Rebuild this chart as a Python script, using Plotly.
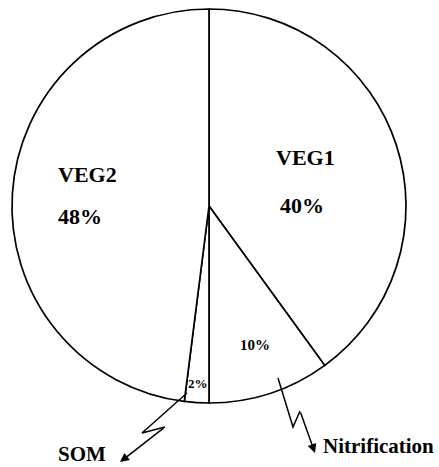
import plotly.graph_objects as go

# Share of N uptake by pool (%)
labels = ["VEG1", "Nitrification", "SOM", "VEG2"]
shares = [40, 10, 2, 48]

W, H = 439, 467
FONT = "Liberation Serif, Times New Roman, serif"


def px(x):
    return x / W


def py(y):
    return 1 - y / H


cx, cy, r = 209, 206, 197

fig = go.Figure(
    go.Pie(
        labels=labels,
        values=shares,
        sort=False,
        direction="clockwise",
        rotation=0,
        marker=dict(colors=["white"] * len(shares), line=dict(color="black", width=1.7)),
        textinfo="none",
        hoverinfo="label+percent",
        showlegend=False,
        domain=dict(x=[px(cx - r), px(cx + r)], y=[py(cy + r), py(cy - r)]),
    )
)

pct = {lab: f"{v}%" for lab, v in zip(labels, shares)}

annotations = []


def add_text(x, y, text, size):
    annotations.append(
        dict(
            x=px(x), y=py(y), xref="paper", yref="paper", text=f"<b>{text}</b>",
            showarrow=False, font=dict(family=FONT, size=size, color="black"),
            xanchor="center", yanchor="middle",
        )
    )


add_text(305, 157, "VEG1", 22)
add_text(302, 205, pct["VEG1"], 22)
add_text(87, 175, "VEG2", 22)
add_text(80, 217, pct["VEG2"], 22)
add_text(255, 345, pct["Nitrification"], 15)
add_text(198, 383, pct["SOM"], 13)
add_text(82, 454, "SOM", 21)
add_text(378, 446, "Nitrification", 21)

shapes = []


def zigzag(points):
    # all but the last leg as a polyline; the last leg carries the arrowhead
    path = "M " + " L ".join(f"{px(x)},{py(y)}" for x, y in points[:-1])
    shapes.append(dict(type="path", xref="paper", yref="paper", path=path,
                       line=dict(color="black", width=1.5)))
    (tx, ty), (hx, hy) = points[-2], points[-1]
    annotations.append(
        dict(x=px(hx), y=py(hy), xref="paper", yref="paper", text="",
             showarrow=True, ax=tx - hx, ay=ty - hy, axref="pixel", ayref="pixel",
             arrowhead=2, arrowsize=1.2, arrowwidth=1.5, arrowcolor="black")
    )


zigzag([(187, 393), (142, 433), (165, 427), (120, 462)])
zigzag([(278, 378), (293, 427), (300, 411), (315, 453)])

fig.update_layout(
    width=W, height=H,
    margin=dict(l=0, r=0, t=0, b=0),
    paper_bgcolor="white", plot_bgcolor="white",
    annotations=annotations, shapes=shapes,
)

fig.write_html("out.html")
